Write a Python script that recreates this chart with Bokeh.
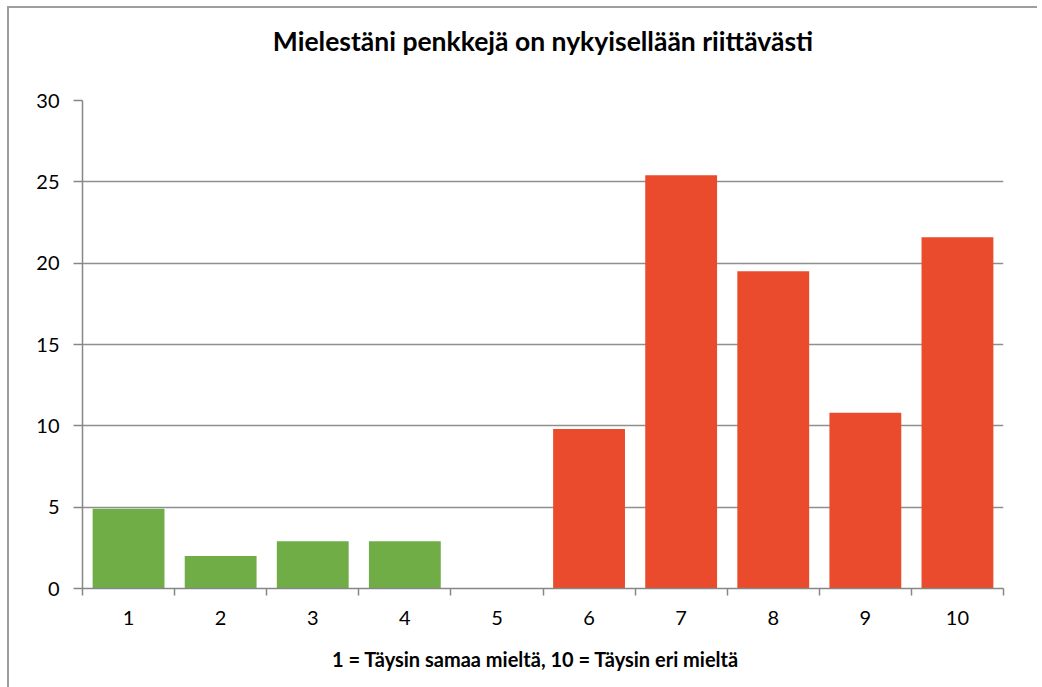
from bokeh.plotting import figure
from bokeh.models import FixedTicker, Title, ColumnDataSource
from bokeh.embed import file_html
from bokeh.resources import INLINE

categories = ["1", "2", "3", "4", "5", "6", "7", "8", "9", "10"]
values = [4.9, 2.0, 2.9, 2.9, 0.0, 9.8, 25.4, 19.5, 10.8, 21.6]
colors = ["#70AD47"] * 5 + ["#EA4B2C"] * 5
title_text = "Mielestäni penkkejä on nykyisellään riittävästi"
x_title = "1 = Täysin  samaa  mieltä, 10 = Täysin  eri mieltä"
y_ticks = [0, 5, 10, 15, 20, 25, 30]

FONT = "Lato"
xs = list(range(1, len(categories) + 1))
src = ColumnDataSource(dict(x=xs, top=values, color=colors))

p = figure(width=1030, height=681, x_range=(0.5, 10.5), y_range=(0, 30),
           output_backend="svg", toolbar_location=None, tools="")
p.min_border_left = 75
p.min_border_right = 34
p.min_border_top = 94
p.min_border_bottom = 99
p.outline_line_color = None
p.background_fill_color = "white"
p.border_fill_color = None
p.styles = {"box-shadow": "inset 2px 2px 0 #9e9e9e",
            "margin-left": "7px", "margin-top": "6px"}
p.title.visible = False

spacer = Title(text=" ", text_font=FONT, text_font_size="35px", standoff=0)
p.add_layout(spacer, "above")
main_title = Title(text=title_text, align="center", text_font=FONT,
                   text_font_size="26.5px", text_font_style="bold", text_color="black",
                   standoff=0, offset=-12)
p.add_layout(main_title, "above")

p.vbar(x="x", top="top", width=0.78, bottom=0, color="color", line_color=None, source=src)

xa = p.xaxis[0]
xa.ticker = FixedTicker(ticks=xs, minor_ticks=[i + 0.5 for i in range(0, 11)])
xa.major_label_overrides = {i: c for i, c in zip(xs, categories)}
xa.major_tick_line_color = None
xa.major_tick_out = 7
xa.major_tick_in = 0
xa.minor_tick_out = 7
xa.minor_tick_in = 0
xa.minor_tick_line_color = "#868686"
xa.minor_tick_line_width = 1.5
xa.axis_line_color = "#868686"
xa.axis_line_width = 1.5
xa.major_label_text_font = FONT
xa.major_label_text_font_size = "20px"
xa.major_label_text_color = "black"
xa.major_label_standoff = 15
xa.axis_label = x_title
xa.axis_label_text_font = FONT
xa.axis_label_text_font_size = "20px"
xa.axis_label_text_font_style = "bold"
xa.axis_label_text_color = "black"
xa.axis_label_standoff = 19

ya = p.yaxis[0]
ya.ticker = FixedTicker(ticks=y_ticks, minor_ticks=[])
ya.major_tick_out = 9
ya.major_tick_in = 0
ya.major_tick_line_color = "#868686"
ya.major_tick_line_width = 1.5
ya.axis_line_color = "#868686"
ya.axis_line_width = 1.5
ya.major_label_text_font = FONT
ya.major_label_text_font_size = "20px"
ya.major_label_text_color = "black"
ya.major_label_standoff = 14

p.xgrid.grid_line_color = None
p.ygrid.grid_line_color = "#8f8f8f"
p.ygrid.grid_line_width = 1.5
p.ygrid.ticker = FixedTicker(ticks=y_ticks)

open("out.html", "w").write(file_html(p, INLINE))
